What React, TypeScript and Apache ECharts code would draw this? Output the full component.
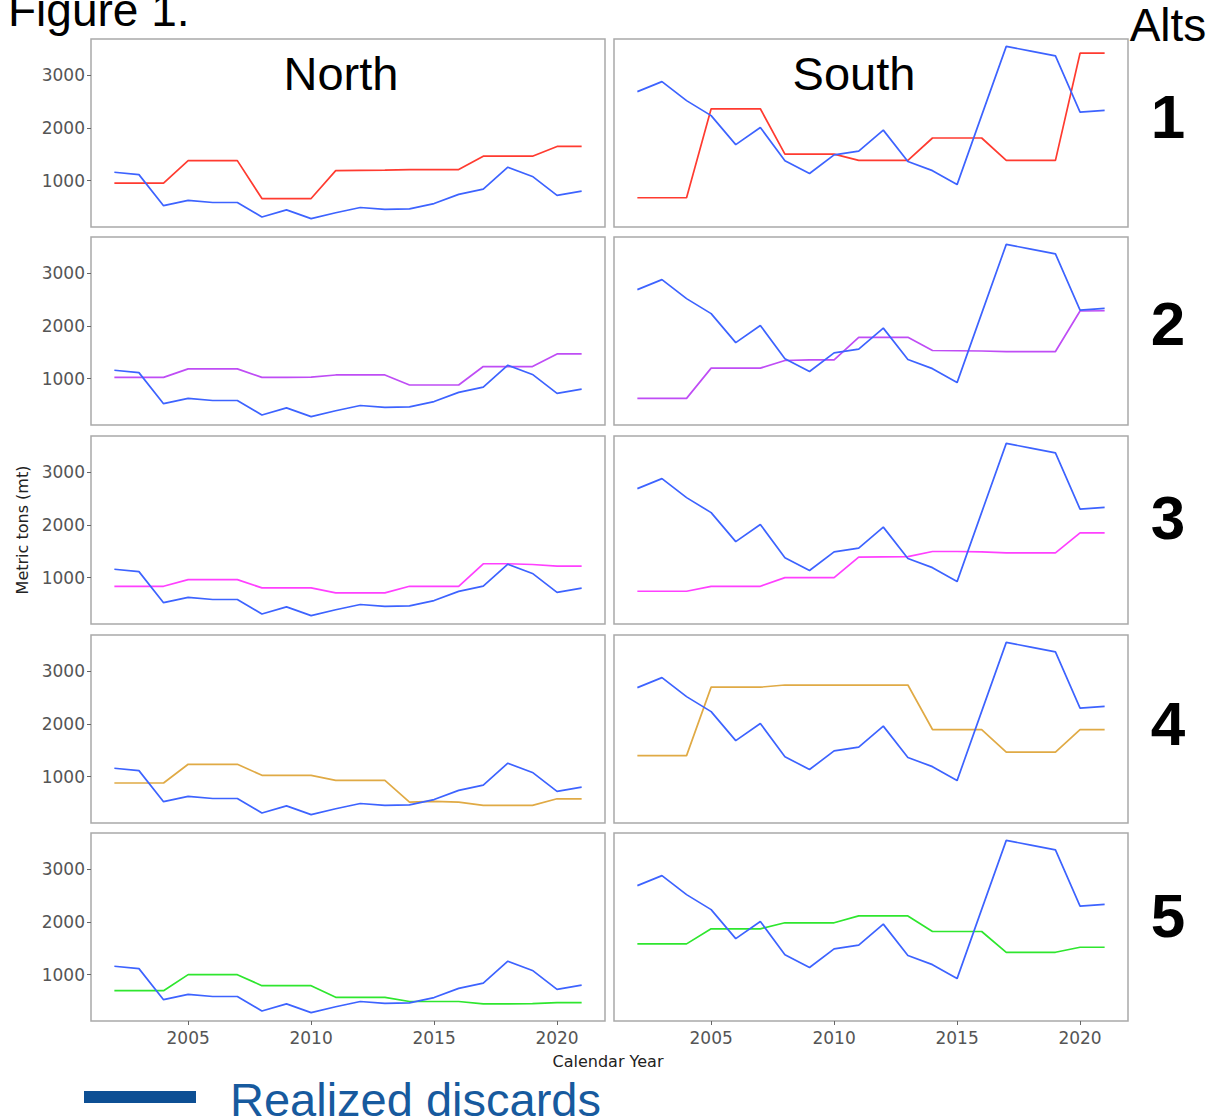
import React, { useEffect, useRef } from "react";
import * as echarts from "echarts";

// ---------- data ----------
const YEARS = [2002, 2003, 2004, 2005, 2006, 2007, 2008, 2009, 2010, 2011, 2012, 2013, 2014, 2015, 2016, 2017, 2018, 2019, 2020, 2021];

const X_TICKS = [2005, 2010, 2015, 2020];
const Y_TICKS = [1000, 2000, 3000];

const REGIONS = ["North", "South"];
const ALT_LABELS = ["1", "2", "3", "4", "5"];

const NORTH_REALIZED = [1160, 1115, 525, 625, 585, 585, 310, 445, 280, 390, 490, 455, 465, 565, 740, 840, 1255, 1080, 720, 800];
const SOUTH_REALIZED = [2690, 2880, 2520, 2235, 1685, 2010, 1380, 1135, 1490, 1560, 1960, 1365, 1190, 925, 2240, 3550, 3460, 3370, 2300, 2335];

const ALT1_NORTH = [955, 955, 955, 1380, 1380, 1380, 660, 660, 660, 1190, 1195, 1200, 1210, 1210, 1210, 1465, 1465, 1465, 1650, 1650];
const ALT1_SOUTH = [675, 675, 675, 2365, 2365, 2365, 1505, 1505, 1505, 1385, 1385, 1385, 1810, 1810, 1810, 1385, 1385, 1385, 3420, 3420];
const ALT2_NORTH = [1025, 1025, 1025, 1185, 1185, 1185, 1025, 1025, 1030, 1070, 1070, 1070, 880, 880, 880, 1230, 1230, 1230, 1470, 1470];
const ALT2_SOUTH = [625, 625, 625, 1200, 1200, 1200, 1345, 1355, 1355, 1785, 1785, 1785, 1535, 1530, 1525, 1515, 1515, 1515, 2285, 2290];
const ALT3_NORTH = [836, 836, 836, 962, 962, 962, 805, 805, 805, 711, 711, 711, 836, 836, 836, 1264, 1264, 1250, 1220, 1220];
const ALT3_SOUTH = [742, 742, 742, 836, 836, 836, 1000, 1000, 1000, 1390, 1395, 1400, 1497, 1497, 1490, 1472, 1472, 1472, 1850, 1850];
const ALT4_NORTH = [880, 880, 880, 1235, 1235, 1235, 1025, 1025, 1025, 930, 930, 930, 515, 530, 515, 455, 455, 455, 580, 580];
const ALT4_SOUTH = [1400, 1400, 1400, 2700, 2700, 2700, 2740, 2740, 2740, 2740, 2740, 2740, 1895, 1895, 1895, 1465, 1465, 1465, 1895, 1895];
const ALT5_NORTH = [695, 695, 695, 1000, 1000, 1000, 790, 790, 790, 570, 570, 570, 490, 490, 490, 445, 445, 450, 470, 470];
const ALT5_SOUTH = [1585, 1585, 1585, 1870, 1870, 1870, 1985, 1985, 1985, 2115, 2115, 2115, 1820, 1820, 1820, 1425, 1425, 1425, 1520, 1520];

const ALTS_NORTH = [ALT1_NORTH, ALT2_NORTH, ALT3_NORTH, ALT4_NORTH, ALT5_NORTH];
const ALTS_SOUTH = [ALT1_SOUTH, ALT2_SOUTH, ALT3_SOUTH, ALT4_SOUTH, ALT5_SOUTH];

// ---------- style ----------
const ALT_COLORS = ["#ff3b30", "#bf4df5", "#ff40ff", "#e0aa45", "#2ee62e"];
const BLUE = "#3d63ff";
const PANEL_LEFT = [91, 614];
const PANEL_W = 514;
const PANEL_TOPS = [39, 237, 436, 635, 833];
const PANEL_H = 188;
const NUM_Y = [116, 323, 517, 723, 915];

export default function App() {
  const ref = useRef<HTMLDivElement>(null);

  useEffect(() => {
    if (!ref.current) return;
    const chart = echarts.init(ref.current, null, { renderer: "svg" });

    const grids: any[] = [];
    const xAxes: any[] = [];
    const yAxes: any[] = [];
    const series: any[] = [];

    for (let r = 0; r < 5; r++) {
      for (let c = 0; c < 2; c++) {
        const idx = r * 2 + c;
        grids.push({
          left: PANEL_LEFT[c],
          top: PANEL_TOPS[r],
          width: PANEL_W,
          height: PANEL_H,
          show: true,
          backgroundColor: "#ffffff",
          borderColor: "#a9a9a9",
          borderWidth: 1.5,
        });
        xAxes.push({
          type: "value",
          gridIndex: idx,
          min: 2001.05,
          max: 2021.95,
          axisLine: { show: false },
          splitLine: { show: false },
          axisTick: {
            show: r === 4,
            customValues: X_TICKS,
            length: 4,
            lineStyle: { color: "#666", width: 1 },
          },
          axisLabel: {
            show: r === 4,
            customValues: X_TICKS,
            formatter: (v: number) => String(v),
            fontFamily: "DejaVu Sans",
            fontSize: 17,
            color: "#555",
            margin: 8,
          },
        });
        yAxes.push({
          type: "value",
          gridIndex: idx,
          min: 120,
          max: 3690,
          axisLine: { show: false },
          splitLine: { show: false },
          axisTick: {
            show: c === 0,
            customValues: Y_TICKS,
            length: 4,
            lineStyle: { color: "#666", width: 1 },
          },
          axisLabel: {
            show: c === 0,
            customValues: Y_TICKS,
            formatter: (v: number) => String(v),
            fontFamily: "DejaVu Sans",
            fontSize: 17,
            color: "#555",
            margin: 6,
          },
        });
        const alt = c === 0 ? ALTS_NORTH[r] : ALTS_SOUTH[r];
        const realized = c === 0 ? NORTH_REALIZED : SOUTH_REALIZED;
        series.push({
          type: "line",
          xAxisIndex: idx,
          yAxisIndex: idx,
          data: YEARS.map((y, k) => [y, alt[k]]),
          showSymbol: false,
          symbol: "none",
          silent: true,
          lineStyle: { color: ALT_COLORS[r], width: 1.7 },
        });
        series.push({
          type: "line",
          xAxisIndex: idx,
          yAxisIndex: idx,
          data: YEARS.map((y, k) => [y, realized[k]]),
          showSymbol: false,
          symbol: "none",
          silent: true,
          lineStyle: { color: BLUE, width: 1.7 },
        });
      }
    }

    const graphic: any[] = [
      {
        type: "text",
        x: 8,
        y: 10,
        style: { text: "Figure 1.", font: "46px 'Liberation Sans', Arial", fill: "#000", align: "left", verticalAlign: "middle" },
      },
      {
        type: "text",
        x: 1168,
        y: 25,
        style: { text: "Alts", font: "46px 'Liberation Sans', Arial", fill: "#000", align: "center", verticalAlign: "middle" },
      },
      {
        type: "text",
        x: PANEL_LEFT[0] + PANEL_W / 2 - 7,
        y: 73,
        z: 100,
        style: { text: REGIONS[0], font: "47px 'Liberation Sans', Arial", fill: "#000", align: "center", verticalAlign: "middle" },
      },
      {
        type: "text",
        x: PANEL_LEFT[1] + PANEL_W / 2 - 17,
        y: 73,
        z: 100,
        style: { text: REGIONS[1], font: "47px 'Liberation Sans', Arial", fill: "#000", align: "center", verticalAlign: "middle" },
      },
      ...ALT_LABELS.map((t, i) => ({
        type: "text",
        x: 1168,
        y: NUM_Y[i],
        style: { text: t, font: "bold 62px 'Liberation Sans', Arial", fill: "#000", align: "center", verticalAlign: "middle" },
      })),
      {
        type: "text",
        x: 608,
        y: 1061,
        style: { text: "Calendar Year", font: "16px 'DejaVu Sans'", fill: "#222", align: "center", verticalAlign: "middle" },
      },
      {
        type: "text",
        x: 22,
        y: 530,
        rotation: Math.PI / 2,
        style: { text: "Metric tons (mt)", font: "16px 'DejaVu Sans'", fill: "#222", align: "center", verticalAlign: "middle" },
      },
      {
        type: "rect",
        shape: { x: 84, y: 1091, width: 112, height: 12 },
        style: { fill: "#0d4f94" },
      },
      {
        type: "text",
        x: 230,
        y: 1099,
        style: { text: "Realized discards", font: "47px 'Liberation Sans', Arial", fill: "#175a9e", align: "left", verticalAlign: "middle" },
      },
    ];

    chart.setOption({
      animation: false,
      backgroundColor: "#ffffff",
      grid: grids,
      xAxis: xAxes,
      yAxis: yAxes,
      series,
      graphic,
    });

    return () => chart.dispose();
  }, []);

  return (
    <div
      ref={ref}
      style={{ position: "absolute", left: 0, top: 0, width: 1211, height: 1118, background: "#fff" }}
    />
  );
}
